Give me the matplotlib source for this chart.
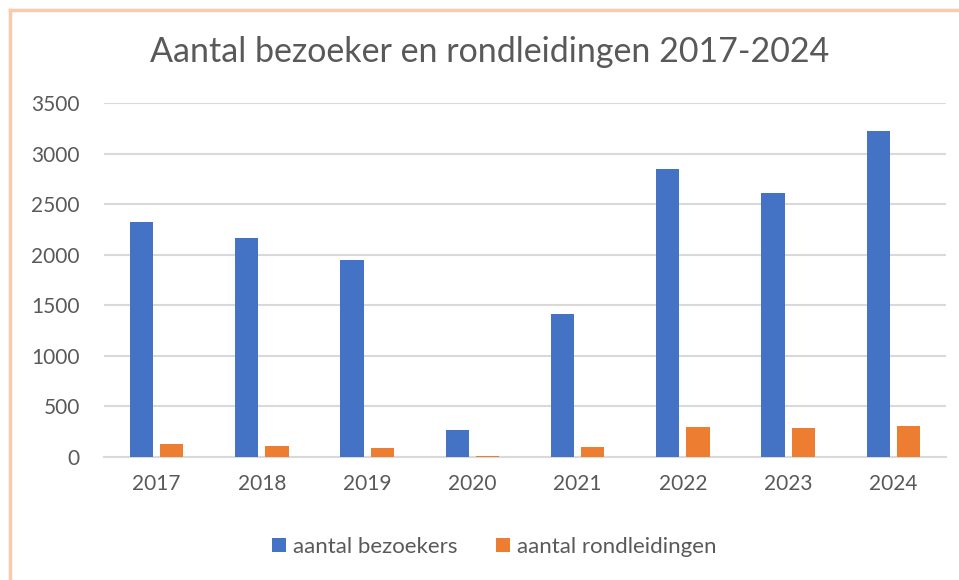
import numpy as np
import matplotlib
matplotlib.use("Agg")
import matplotlib.pyplot as plt
from matplotlib.lines import Line2D

years = ["2017", "2018", "2019", "2020", "2021", "2022", "2023", "2024"]
bezoekers = [2320, 2162, 1945, 267, 1414, 2844, 2607, 3220]
rondleidingen = [132, 112, 89, 10, 102, 300, 283, 310]

BLUE = "#4472C4"
ORANGE = "#ED7D31"
TEXT = "#595959"
GRID = "#D9D9D9"

plt.rcParams["font.family"] = ["Lato", "DejaVu Sans"]

W, H = 959, 580
fig = plt.figure(figsize=(W / 100, H / 100), dpi=100)
ax = fig.add_axes([104 / W, 1 - 457 / H, (946 - 104) / W, (457 - 103) / H])

x = np.arange(len(years))
bw = 0.22
off = 0.143
ax.bar(x - off, bezoekers, bw, color=BLUE, label="aantal bezoekers", zorder=3)
ax.bar(x + off, rondleidingen, bw, color=ORANGE, label="aantal rondleidingen",
       zorder=3)

ax.set_xlim(-0.5, len(years) - 0.5)
ax.set_ylim(0, 3500)
ax.set_yticks(np.arange(0, 3501, 500))
ax.set_xticks(x)
ax.set_xticklabels(years)
ax.yaxis.grid(True, color=GRID, linewidth=1.5, zorder=0)
ax.set_axisbelow(True)
for side in ["top", "right", "left"]:
    ax.spines[side].set_visible(False)
ax.spines["bottom"].set_color(GRID)
ax.spines["bottom"].set_linewidth(1.5)
ax.tick_params(axis="both", length=0, labelsize=15, colors=TEXT)
ax.tick_params(axis="y", pad=17.5)
ax.tick_params(axis="x", pad=12)

fig.text(490 / W, 1 - 52 / H, "Aantal bezoeker en rondleidingen 2017-2024",
         ha="center", va="center", fontsize=24.5, color=TEXT)

leg = fig.legend(loc="center", bbox_to_anchor=(494 / W, 1 - 547 / H),
                 ncol=2, frameon=False, fontsize=16, handlelength=0.63,
                 handleheight=0.63, handletextpad=0.3, columnspacing=1.75)
for t in leg.get_texts():
    t.set_color(TEXT)

# chart border (left and top only visible)
border = "#F8CBAD"
fig.add_artist(Line2D([10 / W, 10 / W], [0, 1 - 10 / H], color=border,
                      linewidth=2.5, transform=fig.transFigure))
fig.add_artist(Line2D([10 / W, 1], [1 - 10 / H, 1 - 10 / H], color=border,
                      linewidth=2.5, transform=fig.transFigure))

fig.savefig("out.png", dpi=100)
